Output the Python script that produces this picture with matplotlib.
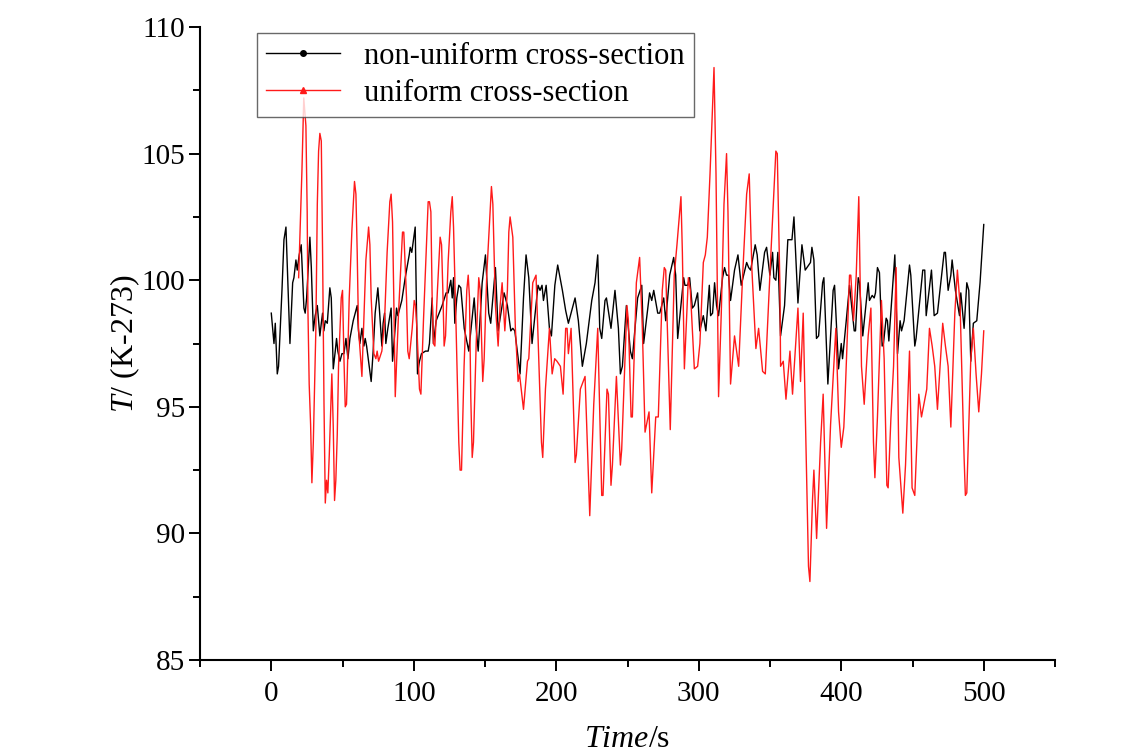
import numpy as np
import matplotlib
matplotlib.use("Agg")
import matplotlib.pyplot as plt
from matplotlib.ticker import MultipleLocator
from matplotlib.lines import Line2D

plt.rcParams['font.family'] = 'Liberation Serif'
plt.rcParams['mathtext.fontset'] = 'custom'
plt.rcParams['mathtext.rm'] = 'Liberation Serif'
plt.rcParams['mathtext.it'] = 'Liberation Serif:italic'

# non-uniform cross-section (black)
t_nonuni = [0, 1.9, 2.8, 4.2, 5.1, 7.5, 8.9, 10.3, 12.2, 13.1, 15.0, 15.9, 17.3, 18.2, 19.6, 21.0,
            22.9, 23.8, 24.8, 27.1, 28.1, 29.5, 30.8, 32.3, 34.1, 35.1, 36.0, 36.9, 37.9, 39.3, 41.1,
            42.1, 43.5, 44.9, 45.8, 46.7, 48.2, 49.6, 51.0, 52.4, 53.8, 55.2, 57.5, 58.9, 60.3, 61.2,
            62.2, 63.6, 65.0, 65.9, 66.9, 68.3, 70.1, 71.5, 72.9, 74.8, 75.7, 77.6, 78.5, 79.5, 80.4,
            81.8, 84.1, 85.1, 86.5, 87.9, 88.8, 91.6, 94.0, 96.8, 97.5, 98.6, 99.8, 101.0, 102.6, 104.0,
            105.4, 108.2, 110.1, 111.0, 112.9, 113.8, 115.7, 117.1, 119.9, 122.7, 124.1, 126.0, 127.0,
            127.9, 128.8, 130.2, 131.6, 133.0, 135.4, 138.6, 142.4, 143.8, 145.2, 148.0, 150.3, 152.6,
            154.0, 157.3, 159.2, 163.4, 165.7, 168.1, 169.5, 170.9, 174.6, 177.0, 178.8, 180.7, 183.0,
            187.2, 188.6, 190.0, 191.0, 192.9, 195.2, 196.6, 199.0, 201.0, 204.3, 206.6, 208.5, 213.2,
            215.5, 218.3, 221.1, 224.9, 227.2, 229.1, 230.5, 231.9, 234.2, 235.2, 238.4, 241.2, 243.6,
            245.0, 246.4, 249.2, 252.0, 253.4, 257.1, 260.0, 261.3, 265.5, 267.0, 268.4, 271.2, 272.6,
            275.4, 276.8, 279.6, 282.4, 283.8, 285.2, 289.4, 290.3, 292.2, 293.6, 295.5, 296.9, 299.2,
            300.7, 303.2, 305.0, 307.4, 308.3, 309.7, 311.1, 312.5, 313.9, 316.7, 318.1, 319.5, 320.9,
            322.3, 325.1, 327.5, 329.8, 333.6, 335.0, 336.4, 339.6, 341.0, 342.9, 346.2, 347.6, 349.9,
            351.8, 352.7, 354.1, 355.5, 357.4, 360.2, 362.5, 365.4, 366.8, 369.6, 372.4, 374.7, 378.4,
            379.4, 380.8, 382.6, 384.1, 386.9, 387.8, 390.6, 394.3, 395.3, 398.1, 400.0, 400.9, 403.5,
            405.8, 409.1, 410.0, 411.9, 412.8, 415.1, 418.9, 419.8, 421.7, 423.1, 424.0, 425.4, 426.8,
            428.7, 429.6, 431.5, 432.4, 433.4, 437.6, 439.5, 441.3, 442.3, 444.1, 447.9, 448.8, 451.6,
            452.5, 457.2, 458.6, 459.6, 463.3, 465.2, 467.5, 472.2, 473.1, 475.0, 476.9, 477.8, 480.1,
            483.0, 483.9, 486.2, 488.1, 489.5, 490.9, 492.7, 495.1, 497.4, 500.0]
T_nonuni = [98.7, 97.5, 98.3, 96.3, 96.6, 99.6, 101.6, 102.1, 98.9, 97.5, 99.9, 100.1, 100.8, 100.4, 101.0, 101.4,
            98.9, 98.7, 99.3, 101.7, 100.5, 98.0, 98.6, 99.0, 97.8, 98.3, 98.7, 98.0, 98.4, 98.3, 99.7,
            99.3, 96.5, 97.2, 97.7, 97.2, 96.8, 97.1, 97.1, 97.7, 96.9, 97.7, 98.4, 98.7, 99.0, 98.0,
            97.5, 98.1, 97.4, 97.7, 97.4, 96.8, 96.0, 97.2, 98.7, 99.7, 99.0, 97.4, 98.3, 98.7, 97.5,
            98.1, 98.9, 96.8, 97.8, 98.9, 98.6, 99.2, 100.1, 101.0, 101.3, 101.1, 101.6, 102.1, 96.3, 96.8,
            97.1, 97.2, 97.2, 97.5, 99.3, 97.5, 98.4, 98.6, 99.0, 99.5, 99.5, 100.0, 99.3,
            100.1, 98.3, 99.3, 99.8, 99.7, 98.1, 97.2, 99.3, 98.1, 97.2, 99.9, 101.0, 98.7,
            98.3, 100.5, 98.0, 99.5, 99.0, 98.0, 98.1, 98.0, 96.3, 99.3, 101.0, 100.1, 97.5,
            99.8, 99.6, 99.8, 99.2, 99.8, 98.1, 97.8, 99.8, 100.6, 99.6, 98.8, 98.3, 99.3,
            98.4, 96.6, 97.5, 99.2, 99.9, 101.0, 98.1, 97.7, 99.2, 99.3, 98.1, 99.6, 98.1,
            96.3, 96.6, 99.0, 97.2, 96.9, 99.3, 99.8, 97.5, 99.5, 99.2, 99.6, 98.7, 98.7,
            99.3, 98.4, 100.2, 100.9, 100.2, 97.7, 100.1, 99.8, 99.8, 100.1, 98.9, 99.0, 99.5,
            98.0, 98.6, 98.0, 99.8, 98.6, 98.7, 99.9, 99.0, 98.6, 100.1, 100.5, 100.2, 100.2,
            99.2, 100.4, 101.0, 99.8, 100.7, 100.5, 100.4, 101.4, 101.0, 99.6, 101.1, 101.3, 100.2,
            101.1, 100.1, 100.0, 101.1, 97.8, 99.0, 101.6, 101.6, 102.5, 99.1, 101.4, 100.4, 100.7,
            101.3, 100.8, 97.7, 97.8, 99.9, 100.1, 95.9, 99.6, 99.8, 96.5, 97.5, 96.9, 98.4,
            99.8, 98.0, 98.0, 100.1, 99.9, 97.8, 99.9, 99.2, 99.4, 99.3, 99.5, 100.5, 100.3,
            97.4, 97.5, 98.5, 98.4, 97.6, 101.0, 97.1, 98.4, 98.0, 98.4, 100.6, 100.2, 97.4,
            97.7, 100.4, 100.4, 98.6, 100.4, 98.6, 98.7, 101.1, 101.1, 99.6, 100.2, 100.8, 99.6,
            98.6, 99.5, 98.1, 99.9, 99.6, 96.8, 98.3, 98.4, 99.9, 102.2]

# uniform cross-section (red)
t_uni = [19.2, 20.6, 21.5, 22.8, 24.3, 25.2, 25.7, 26.6, 27.6, 28.5, 29.5, 31.3, 32.3, 33.2, 34.1, 35.1,
         36.0, 37.0, 37.9, 38.8, 39.7, 40.7, 42.5, 43.5, 44.4, 45.3, 46.3, 47.2, 49.1, 50.0, 51.0,
         51.9, 52.8, 54.7, 56.6, 58.4, 59.4, 60.3, 61.2, 63.6, 66.4, 68.3, 69.2, 70.1, 72.0, 73.4,
         74.3, 75.3, 77.6, 79.5, 81.3, 83.2, 84.1, 85.1, 86.0, 87.0, 89.3, 92.1, 93.0, 94.9, 95.8,
         96.8, 98.9, 100.3, 101.2, 102.2, 103.1, 104.0, 105.0, 106.8, 108.7, 110.1, 111.0, 112.0,
         112.9, 113.8, 114.8, 116.6, 118.5, 119.5, 120.4, 121.3, 122.3, 124.1, 126.0, 127.0, 127.9,
         129.7, 131.6, 132.5, 133.5, 135.3, 137.2, 138.2, 139.1, 140.0, 141.0, 141.9, 143.8, 145.6,
         146.6, 148.4, 149.4, 151.2, 153.6, 154.5, 155.5, 157.3, 159.2, 160.6, 162.0, 163.9, 165.7,
         166.7, 167.6, 169.5, 171.3, 173.2, 174.2, 177.0, 179.8, 180.7, 183.5, 185.8, 187.7, 189.6,
         190.5, 192.4, 195.2, 197.1, 198.9, 200.5, 202.9, 204.8, 206.6, 207.6, 208.5, 210.4, 213.2,
         214.1, 216.9, 220.2, 223.5, 226.3, 229.1, 231.9, 232.8, 235.6, 236.6, 238.4, 239.4, 242.2,
         245.0, 245.9, 249.6, 250.6, 252.5, 253.4, 256.2, 258.5, 260.4, 262.3, 265.1, 267.0, 269.8,
         271.6, 274.4, 275.8, 276.8, 280.0, 282.8, 284.7, 287.5, 288.5, 289.9, 292.7, 294.1, 296.9,
         299.2, 300.8, 303.2, 304.6, 306.0, 307.9, 310.7, 312.1, 313.9, 315.8, 317.7, 319.5, 320.5,
         322.3, 325.1, 328.0, 330.8, 333.6, 335.4, 337.3, 340.1, 342.0, 344.8, 346.7, 350.4, 354.1,
         355.1, 357.0, 357.4, 359.3, 361.2, 364.0, 365.8, 369.6, 371.4, 373.3, 375.2, 377.0, 378.0,
         379.8, 380.8, 382.7, 385.5, 387.3, 389.7, 392.5, 396.2, 398.1, 400.0, 401.8, 402.5, 405.8,
         406.7, 408.6, 410.5, 412.3, 414.2, 416.1, 418.9, 420.8, 422.6, 423.6, 425.4, 428.2, 430.1,
         432.0, 432.9, 434.8, 436.7, 438.5, 440.4, 442.3, 443.2, 445.1, 447.9, 449.7, 451.6, 454.4,
         456.3, 460.0, 461.9, 463.8, 465.6, 467.5, 471.2, 473.1, 475.0, 476.9, 479.7, 481.5, 483.4,
         486.2, 487.1, 488.1, 490.9, 492.7, 494.6, 496.5, 498.4, 500.0]
T_uni = [100.1, 102.7, 104.3, 107.2, 106.1, 102.7, 98.9, 95.9, 94.3, 92.0, 93.6, 98.1, 103.0, 105.1, 105.8, 105.5,
         101.1, 95.1, 91.2, 92.1, 91.6, 93.1, 96.3, 94.2, 91.3, 92.1, 93.9, 96.6, 99.3, 99.6, 96.9,
         95.0, 95.1, 99.3, 102.0, 103.9, 103.4, 101.1, 98.1, 96.2, 100.8, 102.1, 101.4, 99.3, 97.1, 96.9,
         97.2, 96.8, 97.2, 98.4, 101.1, 103.1, 103.4, 102.3, 99.2, 95.4, 98.7, 101.9, 101.9, 99.3, 97.2,
         96.9, 98.1, 99.2, 99.0, 98.1, 96.9, 95.7, 95.5, 98.4, 101.1, 103.1, 103.1, 102.7,
         99.3, 97.5, 97.4, 99.6, 101.7, 101.4, 99.6, 97.4, 97.8, 100.7, 102.7, 103.3, 102.1,
         98.1, 93.6, 92.5, 92.5, 96.6, 99.6, 100.2, 99.3, 95.4, 93.0, 93.6, 97.5, 100.1,
         99.6, 96.0, 96.9, 100.2, 102.7, 103.7, 103.0, 99.0, 97.4, 99.0, 99.9, 98.0, 99.6,
         101.9, 102.5, 101.7, 98.1, 96.0, 96.3, 94.9, 96.8, 96.9, 99.9, 100.2, 96.9, 93.6,
         93.0, 95.7, 98.1, 96.3, 96.9, 96.8, 96.6, 95.5, 98.1, 98.1, 97.1, 98.1, 92.8,
         93.1, 95.7, 96.2, 90.7, 95.1, 98.1, 91.5, 91.5, 95.7, 95.5, 91.9, 92.7, 96.2,
         92.7, 93.3, 99.0, 98.4, 94.6, 94.6, 99.9, 100.9, 98.1, 94.0, 94.8, 91.6, 94.6,
         94.6, 99.6, 100.5, 100.4, 94.1, 100.2, 101.4, 103.3, 101.1, 96.5, 100.1, 99.6, 96.5,
         96.6, 97.5, 100.7, 101.0, 101.7, 104.2, 108.4, 104.2, 95.4, 98.7, 103.0, 105.0, 102.7,
         95.9, 97.8, 96.6, 100.2, 103.4, 104.2, 100.4, 97.3, 98.1, 96.4, 96.3, 100.8, 105.1,
         105.0, 99.6, 96.6, 96.8, 95.3, 97.2, 95.5, 98.9, 96.0, 98.7, 93.6, 88.7, 88.1,
         91.3, 92.5, 89.8, 93.6, 95.5, 90.2, 94.3, 98.1, 94.8, 93.4, 94.2, 95.1, 100.2,
         100.2, 98.4, 100.2, 103.3, 96.6, 95.1, 97.8, 98.9, 93.6, 92.2, 94.6, 99.2, 96.9,
         91.9, 91.8, 94.5, 96.6, 100.5, 93.0, 91.5, 90.8, 92.7, 97.2, 91.8, 91.5, 95.5,
         94.6, 95.7, 98.1, 97.4, 96.6, 94.9, 98.3, 97.4, 96.6, 94.2, 98.7, 100.4, 99.0,
         93.0, 91.5, 91.6, 96.9, 98.1, 96.3, 94.8, 96.3, 98.0]

labels = ['non-uniform cross-section', 'uniform cross-section']
black = 'black'
red = '#ff1a1a'

fig = plt.figure(figsize=(11.45, 7.53), dpi=100)
ax = fig.add_axes([0.1747, 0.1235, 0.7467, 0.8406])

ax.plot(t_nonuni, T_nonuni, color=black, lw=1.0)
ax.plot(t_uni, T_uni, color=red, lw=1.0)

ax.set_xlim(-50, 550)
ax.set_ylim(85, 110)
ax.xaxis.set_minor_locator(MultipleLocator(50))
ax.yaxis.set_major_locator(MultipleLocator(5))
ax.yaxis.set_minor_locator(MultipleLocator(2.5))
ax.set_xticks([0, 100, 200, 300, 400, 500])

for s in ['top', 'right']:
    ax.spines[s].set_visible(False)
for s in ['left', 'bottom']:
    ax.spines[s].set_linewidth(1.5)

ax.tick_params(which='major', direction='out', length=8, width=1.4, labelsize=21)
ax.tick_params(axis='x', which='major', pad=7)
ax.tick_params(axis='y', which='major', pad=3)
ax.tick_params(which='minor', direction='out', length=5, width=1.4)

ax.set_xlabel('$Time$/s', fontsize=23, labelpad=13)
ax.set_ylabel('$T$/ (K-273)', fontsize=23, labelpad=-1)

handles = [Line2D([], [], color=black, lw=1.0, marker='o', ms=4),
           Line2D([], [], color=red, lw=1.0, marker='^', ms=5)]
leg = ax.legend(handles, labels, loc='upper left', bbox_to_anchor=(0.067, 0.991),
                borderaxespad=0, fontsize=22, handlelength=2.4, frameon=True,
                fancybox=False, borderpad=0.3, labelspacing=0.25, handletextpad=0.8)
leg.get_frame().set_edgecolor('#444444')
leg.get_frame().set_linewidth(1.0)

fig.savefig('out.png', dpi=100)
